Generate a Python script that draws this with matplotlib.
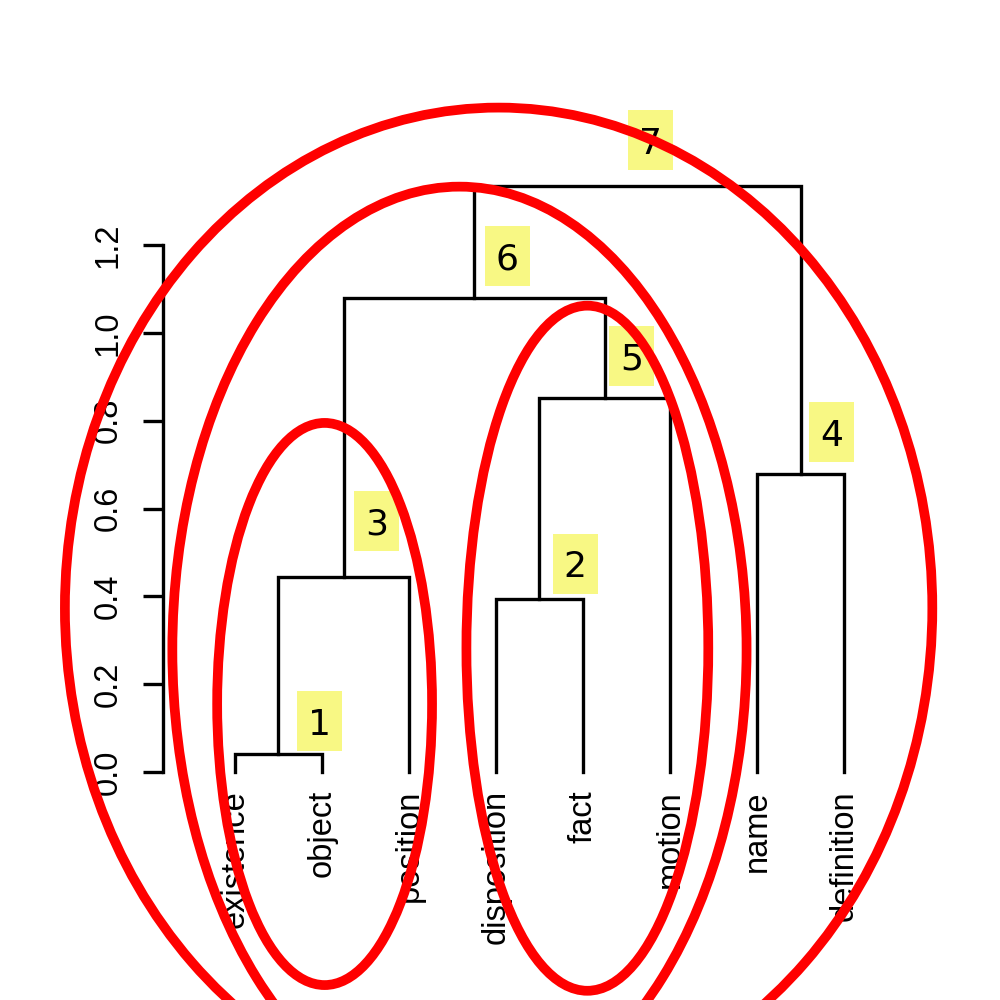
#!/usr/bin/env python3
"""Dendrogram of eight terms with numbered, circled clusters."""

import matplotlib
matplotlib.use("Agg")
import matplotlib.pyplot as plt
from matplotlib.patches import Ellipse, Rectangle

# leaves in dendrogram order
leaves = ["existence", "object", "position", "disposition",
          "fact", "motion", "name", "definition"]

# R-style merges: negative = leaf (1-based), positive = earlier merge
merges = [(-1, -2), (-4, -5), (1, -3), (-7, -8), (2, -6), (3, 5), (6, 4)]
heights = [0.041, 0.394, 0.444, 0.679, 0.852, 1.079, 1.334]

# yellow cluster numbers: label, x, y (data units)
box_labels = ["1", "2", "3", "4", "5", "6", "7"]
box_x = [1.97, 4.91, 2.63, 7.86, 5.56, 4.13, 5.78]
box_y = [0.116, 0.474, 0.572, 0.774, 0.947, 1.175, 1.439]

# red ellipses: centre x, centre y, width, height (data units)
ell_cx = [2.03, 5.05, 3.58, 4.03]
ell_cy = [0.155, 0.282, 0.278, 0.373]
ell_w = [2.47, 2.78, 6.60, 9.97]
ell_h = [1.28, 1.56, 2.11, 2.28]

yticks = [0.0, 0.2, 0.4, 0.6, 0.8, 1.0, 1.2]

plt.rcParams["font.family"] = ["Liberation Sans", "DejaVu Sans"]

fig = plt.figure(figsize=(10, 10), dpi=100)
ax = fig.add_axes([0, 0, 1, 1])
ax.set_xlim(-1.701, 9.793)
ax.set_ylim(-0.519, 1.758)

lw = 2.4
pos = {}
for i in range(len(leaves)):
    pos[-(i + 1)] = (i + 1, 0.0)

for k, ((a, b), h) in enumerate(zip(merges, heights)):
    xa, ya = pos[a]
    xb, yb = pos[b]
    ax.plot([xa, xa, xb, xb], [ya, h, h, yb], color="black", lw=lw,
            solid_joinstyle="miter", zorder=2)
    pos[k + 1] = ((xa + xb) / 2, h)

for i, name in enumerate(leaves):
    ax.text(i + 1, -0.041, name, rotation=90, ha="center", va="top",
            fontsize=23.5, zorder=3)

# box size in data units (~45 x 60 px)
bw, bh = 0.52, 0.137
for lab, x, y in zip(box_labels, box_x, box_y):
    ax.add_patch(Rectangle((x - bw / 2, y - bh / 2), bw, bh,
                           fc="#f8f884", ec="none", zorder=4))
    ax.text(x, y, lab, ha="center", va="center_baseline", fontsize=26,
            family="DejaVu Sans", zorder=4.5)

for cx, cy, w, h in zip(ell_cx, ell_cy, ell_w, ell_h):
    ax.add_patch(Ellipse((cx, cy), w, h, fill=False, ec="#ff0000",
                         lw=7, zorder=5))

# axis
for s in ["top", "right", "bottom"]:
    ax.spines[s].set_visible(False)
ax.spines["left"].set_position(("data", 0.172))
ax.spines["left"].set_bounds(0, 1.2)
ax.spines["left"].set_linewidth(lw)
ax.set_xticks([])
ax.set_yticks(yticks)
ax.set_yticklabels([f"{t:.1f}" for t in yticks], rotation=90,
                   va="center", fontsize=23.5)
ax.tick_params(axis="y", length=14.4, width=lw, pad=14)
ax.patch.set_visible(False)

plt.savefig("out.png", dpi=100)
